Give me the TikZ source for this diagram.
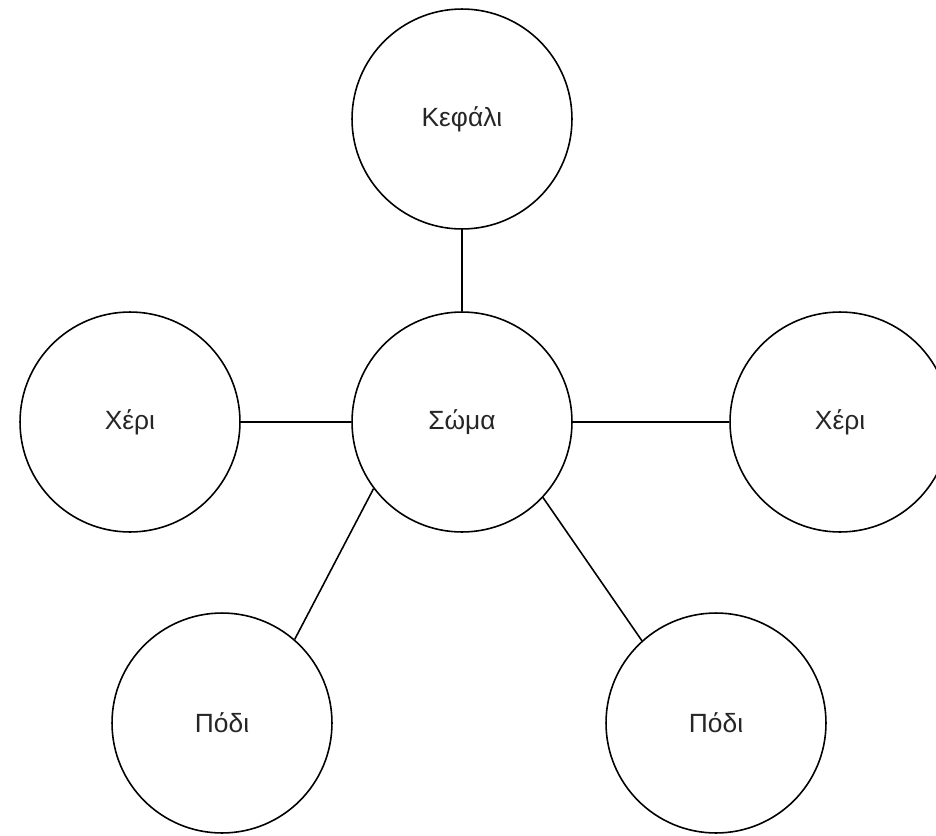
\documentclass[tikz,border=0pt]{standalone}
\usepackage{fontspec}
\setmainfont{Liberation Sans}
\begin{document}
\begin{tikzpicture}[x=0.02cm,y=-0.02cm,
  part/.style={circle,draw=black,line width=0.9pt,fill=white,minimum size=4.4cm,inner sep=0pt,
    font=\fontsize{15}{18}\selectfont,text=black!85},
  link/.style={draw=black,line width=0.9pt}]
  \useasboundingbox (0,0) rectangle (936,835);
  % body parts
  \node[part] (head)  at (462,119) {Κεφάλι};
  \node[part] (body)  at (462,422) {Σώμα};
  \node[part] (armL)  at (130,422) {Χέρι};
  \node[part] (armR)  at (840,422) {Χέρι};
  \node[part] (legL)  at (222,723) {Πόδι};
  \node[part] (legR)  at (716,723) {Πόδι};
  % connections to the body
  \draw[link] (head.south) -- (body.north);
  \draw[link] (armL.east) -- (body.west);
  \draw[link] (body.east) -- (armR.west);
  \draw[link] (body.217) -- (legL.49);
  \draw[link] (body.-43) -- (legR.132);
\end{tikzpicture}
\end{document}
